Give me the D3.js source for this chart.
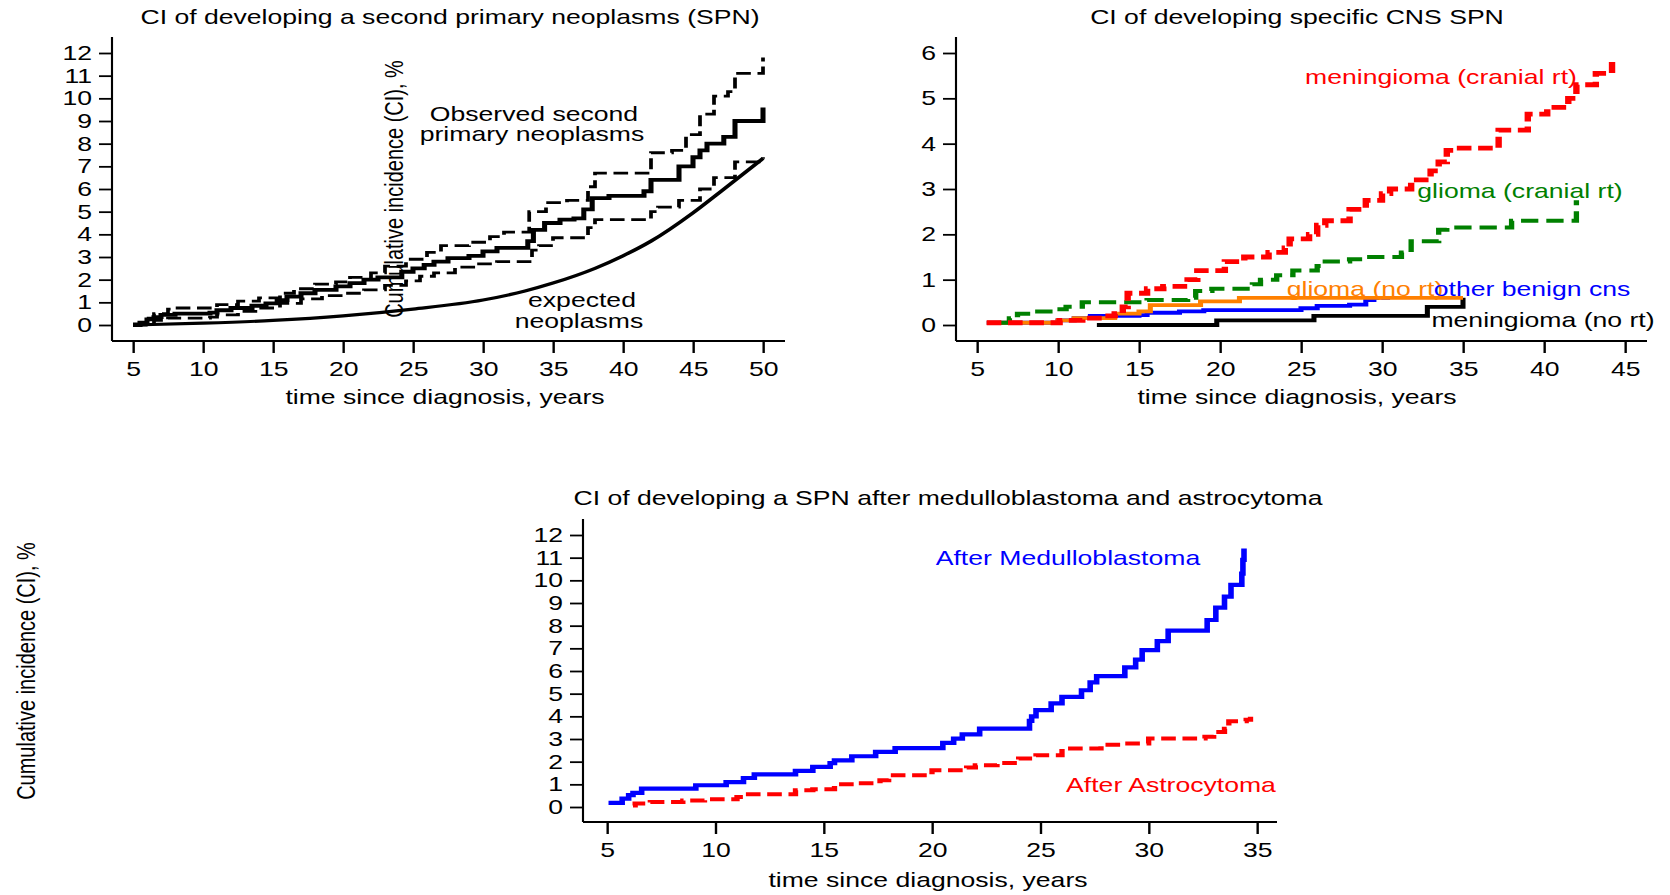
<!DOCTYPE html>
<html>
<head>
<meta charset="utf-8">
<script src="https://cdn.jsdelivr.net/npm/d3@7"></script>
<style>
  body { margin: 0; background: #fff; }
  svg { display: block; }
</style>
</head>
<body>
<svg id="fig"></svg>
<script>
// ---- data (time since diagnosis in years, cumulative incidence in %) ----
const spnObserved = [[5,0],[5.5,0.1],[6,0.25],[6.5,0.35],[7,0.45],[8,0.5],[10.5,0.55],[11,0.65],[12,0.75],[13.5,0.85],[14.5,0.95],[15.3,1.1],[16,1.25],[17,1.4],[18,1.55],[19.5,1.7],[20.5,1.85],[21.5,2.0],[22.5,2.1],[24.2,2.35],[25,2.5],[25.8,2.65],[26.5,2.8],[27.5,2.95],[29,3.05],[30,3.25],[31,3.4],[33.2,3.7],[33.6,4.2],[34.4,4.5],[35.5,4.65],[36.5,4.7],[37.2,5.1],[37.8,5.6],[39,5.7],[41.5,5.9],[42,6.4],[44,7.0],[45,7.4],[45.5,7.7],[46,8.0],[47.2,8.3],[48,9.0],[50,9.6]];
const spnUpper = [[5,0.05],[5.8,0.3],[6.5,0.5],[7.5,0.7],[8,0.75],[11,0.9],[12.5,1.05],[14,1.2],[15.5,1.4],[16.5,1.6],[18,1.8],[19.5,1.9],[20.5,2.1],[22,2.3],[23,2.6],[24.5,2.9],[26,3.2],[27,3.5],[29,3.65],[30.5,3.9],[31.5,4.1],[33.3,5.0],[34.5,5.4],[36,5.5],[37.5,6.1],[38,6.7],[42,7.6],[43.5,7.7],[44.5,8.4],[45.5,9.3],[46.5,10.1],[47.5,10.3],[48,11.1],[50,11.8]];
const spnLower = [[5,0],[6.5,0.2],[7.5,0.3],[10.5,0.35],[11,0.45],[12.5,0.6],[14,0.75],[15.5,0.95],[17,1.15],[18.5,1.3],[20,1.4],[21.5,1.55],[23,1.75],[24.5,1.95],[25.5,2.15],[26.5,2.3],[28,2.55],[29.5,2.7],[31,2.8],[33.5,3.3],[34,3.5],[35,3.85],[37.5,4.3],[38,4.65],[42,5.0],[42.5,5.2],[44,5.5],[45.5,6.0],[46.5,6.5],[48,7.2],[50,7.4]];
const spnExpected = [[5,0],[10,0.08],[15,0.2],[20,0.4],[25,0.7],[30,1.1],[33,1.5],[35,1.85],[38,2.5],[40,3.05],[42,3.7],[45,4.95],[47,5.9],[50,7.35]];

const meningiomaCranial = [[5.6,0.05],[10.1,0.1],[11.5,0.15],[12.8,0.2],[13.5,0.25],[14,0.4],[14.3,0.7],[15.5,0.8],[16.5,0.85],[18,1.0],[18.6,1.2],[20.3,1.4],[21.5,1.5],[23,1.6],[24,1.7],[24.3,1.9],[25.5,2.0],[26,2.2],[26.5,2.3],[28,2.55],[29,2.75],[30,2.9],[30.5,3.0],[31.8,3.2],[33,3.4],[33.5,3.6],[34,3.85],[34.5,3.9],[37.2,4.3],[39,4.65],[40.2,4.8],[41.5,5.0],[42,5.3],[43.2,5.55],[44.2,5.9]];
const gliomaCranial = [[6.4,0.05],[7,0.15],[7.5,0.25],[8.5,0.3],[9.5,0.35],[10.5,0.4],[11.5,0.5],[15.5,0.55],[18,0.6],[18.5,0.75],[19.5,0.8],[22,0.9],[22.5,1.0],[23.5,1.1],[24.5,1.2],[26,1.3],[26.5,1.4],[28,1.45],[29,1.5],[31.2,1.6],[31.8,1.85],[33.5,2.1],[34,2.15],[38,2.3],[42,2.75]];
const gliomaNoRt = [[5.6,0.05],[10,0.1],[11,0.15],[13.5,0.25],[15,0.3],[15.7,0.44],[18.8,0.52],[21.2,0.6],[35,0.6]];
const otherBenign = [[5.6,0.05],[10,0.1],[11,0.15],[12,0.2],[15,0.22],[15.5,0.27],[17.5,0.3],[19,0.33],[25,0.37],[26,0.42],[28,0.45],[29,0.55],[29.5,0.6],[30.5,0.6]];
const meningiomaNoRt = [[12.4,0],[19.8,0.1],[25.8,0.2],[32.8,0.4],[35,0.6]];

const afterMedullo = [[5.07,0.18],[5.7,0.37],[6.0,0.52],[6.2,0.62],[6.6,0.81],[9.1,0.96],[10.5,1.1],[11.3,1.28],[11.8,1.44],[13.7,1.59],[14.5,1.77],[15.3,1.94],[15.5,2.06],[16.3,2.24],[17.4,2.43],[18.3,2.6],[20.5,2.83],[21,3.02],[21.4,3.2],[22.2,3.46],[24.5,3.8],[24.6,4.0],[24.8,4.27],[25.5,4.57],[26,4.86],[26.9,5.15],[27.3,5.5],[27.6,5.77],[28.9,6.16],[29.4,6.5],[29.7,6.92],[30.4,7.32],[30.9,7.78],[32.7,8.25],[33.1,8.8],[33.5,9.28],[33.8,9.8],[34.3,10.3],[34.35,10.9],[34.4,11.4]];
const afterAstro = [[6.2,0.07],[6.3,0.15],[7,0.22],[8.5,0.29],[9.5,0.34],[11,0.44],[11.3,0.56],[13.7,0.74],[14.5,0.78],[15.5,1.0],[16.6,1.05],[17.6,1.18],[18,1.4],[20,1.62],[21.6,1.74],[22,1.84],[23,1.94],[24,2.14],[24.8,2.28],[26,2.58],[27.8,2.75],[28.8,2.8],[30,3.02],[32.6,3.1],[33,3.31],[33.5,3.45],[33.7,3.78],[34.5,3.85],[34.7,3.98]];

const ticks1X = [5,10,15,20,25,30,35,40,45,50];
const ticks1Y = [0,1,2,3,4,5,6,7,8,9,10,11,12];
const ticks2X = [5,10,15,20,25,30,35,40,45];
const ticks2Y = [0,1,2,3,4,5,6];
const ticks3X = [5,10,15,20,25,30,35];
const ticks3Y = [0,1,2,3,4,5,6,7,8,9,10,11,12];

// the original figure is stretched sideways, so draw in a narrower viewBox
const W = 1670, H = 895, K = 1.33;
const FONT = "'Liberation Sans', Arial, Helvetica, sans-serif";
const px = v => v / K;

const svg = d3.select("#fig")
    .attr("width", W).attr("height", H)
    .attr("viewBox", `0 0 ${W / K} ${H}`)
    .attr("preserveAspectRatio", "none")
    .attr("font-family", FONT);

function label(text, x, y, color, opts = {}) {
    const t = svg.append("text")
        .attr("font-size", 20)
        .attr("fill", color || "#000")
        .attr("text-anchor", "middle")
        .text(text);
    if (opts.rotate) t.attr("transform", `translate(${px(x)},${y}) rotate(-90)`);
    else t.attr("x", px(x)).attr("y", y);
    return t;
}

function drawPanel(cfg) {
    const x = d3.scaleLinear().domain(cfg.xDomain).range([px(cfg.xRange[0]), px(cfg.xRange[1])]);
    const y = d3.scaleLinear().domain(cfg.yDomain).range(cfg.yRange);
    const g = svg.append("g");

    g.append("line")
        .attr("x1", px(cfg.axisX)).attr("x2", px(cfg.axisX))
        .attr("y1", cfg.axisTop).attr("y2", cfg.axisY)
        .attr("stroke", "#000").attr("stroke-width", 1.6);
    g.append("line")
        .attr("x1", px(cfg.axisX)).attr("x2", px(cfg.axisRight))
        .attr("y1", cfg.axisY).attr("y2", cfg.axisY)
        .attr("stroke", "#000").attr("stroke-width", 2);

    const styleAxis = a => {
        a.select(".domain").remove();
        a.attr("font-size", 20).attr("font-family", FONT);
        a.selectAll("line").attr("stroke", "#000").attr("stroke-width", 1.8);
        a.selectAll("text").attr("fill", "#000");
    };

    g.append("g").attr("transform", `translate(${px(cfg.axisX)},0)`)
        .call(d3.axisLeft(y).tickValues(cfg.yTicks).tickSize(13 / K).tickPadding(7 / K).tickFormat(d3.format("d")))
        .call(styleAxis);
    g.append("g").attr("transform", `translate(0,${cfg.axisY})`)
        .call(d3.axisBottom(x).tickValues(cfg.xTicks).tickSize(12).tickPadding(9).tickFormat(d3.format("d")))
        .call(styleAxis);

    label(cfg.title, cfg.titleX, cfg.titleY);
    label("time since diagnosis, years", cfg.xTitleX, cfg.xTitleY);
    return {g, x, y};
}

function addLine(p, data, color, width, dash, curve) {
    const line = d3.line()
        .x(d => p.x(d[0]))
        .y(d => p.y(d[1]))
        .curve(curve || d3.curveStepAfter);
    p.g.append("path")
        .attr("d", line(data))
        .attr("fill", "none")
        .attr("stroke", color)
        .attr("stroke-width", width)
        .attr("stroke-dasharray", dash || null);
}

// ---- panel 1: all SPN ----
const p1 = drawPanel({
    xDomain: [5, 50], xRange: [133, 763], yDomain: [0, 12], yRange: [325, 53],
    xTicks: ticks1X, yTicks: ticks1Y,
    axisX: 112, axisTop: 37, axisY: 341, axisRight: 785,
    title: "CI of developing a second primary neoplasms (SPN)", titleX: 450, titleY: 24,
    xTitleX: 445, xTitleY: 404
});
addLine(p1, spnExpected, "#000", 3.2, null, d3.curveMonotoneX);
addLine(p1, spnUpper, "#000", 2.8, "11,5");
addLine(p1, spnLower, "#000", 2.8, "11,5");
addLine(p1, spnObserved, "#000", 3.8);
label("Observed second", 534, 121);
label("primary neoplasms", 532, 141);
label("expected", 582, 307);
label("neoplasms", 579, 328);
label("Cumulative incidence (CI), %", 403, 189, "#000", {rotate: true});

// ---- panel 2: specific CNS SPN ----
const p2 = drawPanel({
    xDomain: [5, 45], xRange: [977, 1625], yDomain: [0, 6], yRange: [325, 53],
    xTicks: ticks2X, yTicks: ticks2Y,
    axisX: 956, axisTop: 37, axisY: 341, axisRight: 1647,
    title: "CI of developing specific CNS SPN", titleX: 1297, titleY: 24,
    xTitleX: 1297, xTitleY: 404
});
addLine(p2, meningiomaNoRt, "#000", 3.8);
addLine(p2, otherBenign, "#0000ff", 3.8);
addLine(p2, gliomaNoRt, "#ff8000", 3.8);
addLine(p2, gliomaCranial, "#008000", 4, "13,6");
addLine(p2, meningiomaCranial, "#ff0000", 4.8, "11,5");
label("meningioma (cranial rt)", 1441, 84, "#ff0000");
label("glioma (cranial rt)", 1520, 198, "#008000");
label("glioma (no rt)", 1365, 296, "#ff8000");
label("other benign cns", 1532, 296, "#0000ff");
label("meningioma (no rt)", 1543, 327, "#000");

// ---- panel 3: medulloblastoma vs astrocytoma ----
const p3 = drawPanel({
    xDomain: [5, 35], xRange: [607, 1257], yDomain: [0, 12], yRange: [807, 535],
    xTicks: ticks3X, yTicks: ticks3Y,
    axisX: 583, axisTop: 519, axisY: 822, axisRight: 1277,
    title: "CI of developing a SPN after medulloblastoma and astrocytoma", titleX: 948, titleY: 505,
    xTitleX: 928, xTitleY: 887
});
addLine(p3, afterAstro, "#ff0000", 4, "11,5");
addLine(p3, afterMedullo, "#0000ff", 4.2);
label("After Medulloblastoma", 1068, 565, "#0000ff");
label("After Astrocytoma", 1171, 792, "#ff0000");
label("Cumulative incidence (CI), %", 35, 671, "#000", {rotate: true});
</script>
</body>
</html>
